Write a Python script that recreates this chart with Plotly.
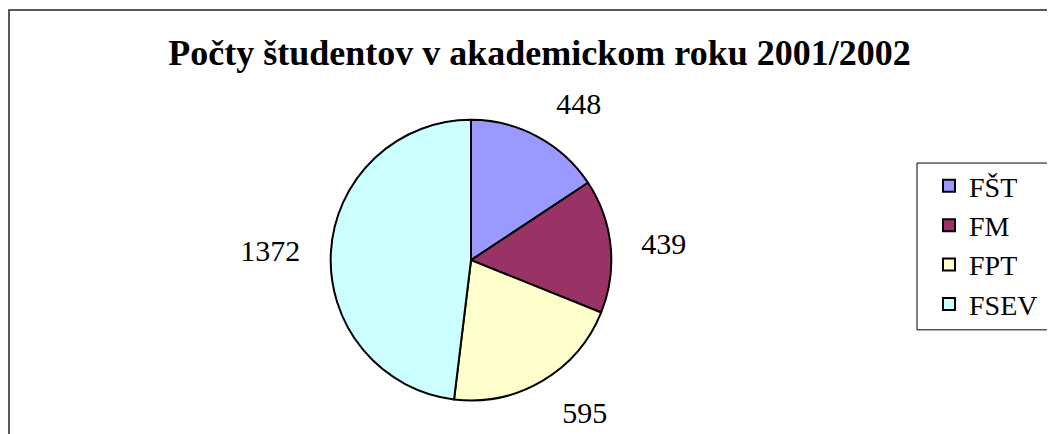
import plotly.graph_objects as go

categories = ["FŠT", "FM", "FPT", "FSEV"]
values = [448, 439, 595, 1372]
colors = ["#9999FF", "#993366", "#FFFFCC", "#CCFFFF"]
title_text = "Počty študentov v akademickom roku 2001/2002"

# page body has an 8px margin; figure sized to fill the rest of the window
OFF = 8
W, H = 1055 - OFF, 434 - OFF
serif = "Liberation Serif, Times New Roman, serif"


def px(x):
    return (x - OFF) / W


def py(y):
    return 1 - (y - OFF) / H


cx, cy, r = 471, 265, 143   # pie centre / radius (px)
r_lab = 166                 # radius of the (invisible) ring that carries the value labels

fig = go.Figure()
# invisible, larger pie: only used to set the value labels a bit away from the pie
fig.add_trace(go.Pie(
    labels=categories,
    values=values,
    sort=False,
    direction="clockwise",
    rotation=0,
    marker=dict(colors=["rgba(0,0,0,0)"] * len(values), line=dict(width=0)),
    textinfo="value",
    textposition="outside",
    textfont=dict(family=serif, size=30, color="black"),
    domain=dict(x=[px(cx - r_lab), px(cx + r_lab)], y=[py(cy + r_lab), py(cy - r_lab)]),
    hoverinfo="skip",
    showlegend=False,
))
fig.add_trace(go.Pie(
    labels=categories,
    values=values,
    sort=False,
    direction="clockwise",
    rotation=0,
    marker=dict(colors=colors, line=dict(color="black", width=2)),
    textinfo="none",
    domain=dict(x=[px(cx - r), px(cx + r)], y=[py(cy + r), py(cy - r)]),
    hoverinfo="label+value+percent",
))

fig.update_layout(
    width=W, height=H,
    autosize=False,
    margin=dict(l=0, r=0, t=0, b=0),
    paper_bgcolor="white",
    plot_bgcolor="white",
    title=dict(
        text="<b>" + title_text + "</b>",
        font=dict(family=serif, size=36, color="black"),
        x=px(539.5), xanchor="center", xref="paper",
        y=py(52), yanchor="middle", yref="container",
    ),
    legend=dict(
        x=px(929), xanchor="left",
        y=py(164), yanchor="top",
        borderwidth=0,
        bgcolor="rgba(0,0,0,0)",
        font=dict(family=serif, size=28, color="black"),
        itemsizing="constant",
    ),
    shapes=[
        dict(
            type="rect", xref="paper", yref="paper",
            x0=px(9), x1=1.05, y0=-0.05, y1=py(10),
            line=dict(color="#222222", width=1.5),
            fillcolor="rgba(0,0,0,0)", layer="below",
        ),
        dict(
            type="rect", xref="paper", yref="paper",
            x0=px(917), x1=1.05, y0=py(336), y1=py(166),
            line=dict(color="black", width=1),
            fillcolor="rgba(0,0,0,0)", layer="below",
        ),
    ],
)

fig.write_html("out.html")
